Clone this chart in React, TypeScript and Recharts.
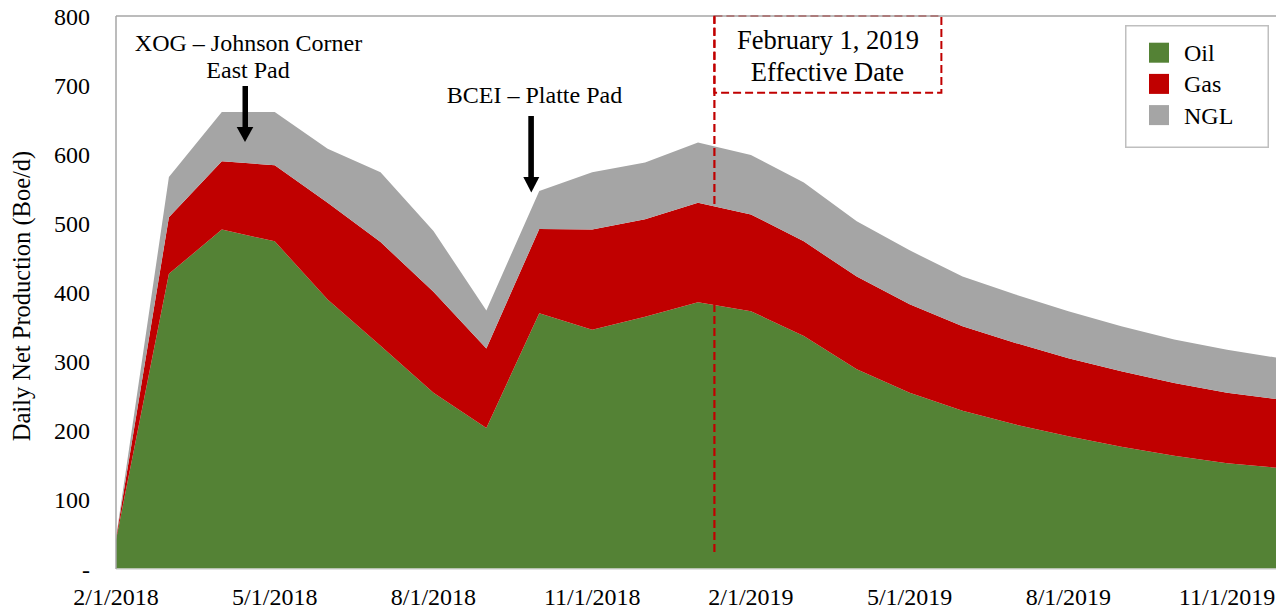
import React from 'react';
import { AreaChart, Area, XAxis, YAxis, ReferenceLine, ReferenceArea, Legend } from 'recharts';

const FONT = '"Liberation Serif", "Times New Roman", serif';

const months = [
  '2/1/2018', '3/1/2018', '4/1/2018', '5/1/2018', '6/1/2018', '7/1/2018', '8/1/2018', '9/1/2018',
  '10/1/2018', '11/1/2018', '12/1/2018', '1/1/2019', '2/1/2019', '3/1/2019', '4/1/2019', '5/1/2019',
  '6/1/2019', '7/1/2019', '8/1/2019', '9/1/2019', '10/1/2019', '11/1/2019', '12/1/2019',
];
const oil = [42, 427, 491, 474, 390, 323, 255, 204, 370, 346, 365, 386, 373, 337, 289, 255, 229, 209, 192, 177, 164, 153, 146];
const gas = [2, 82, 99, 110, 140, 150, 146, 115, 122, 145, 141, 144, 140, 137, 134, 128, 122, 118, 113, 109, 105, 102, 99];
const ngl = [1, 58, 71, 77, 78, 101, 88, 55, 55, 83, 82, 87, 86, 85, 80, 78, 72, 70, 68, 65, 63, 62, 60];

const yTicks = [0, 100, 200, 300, 400, 500, 600, 700, 800];
const xTicks = [0, 3, 6, 9, 12, 15, 18, 21];

const seriesNames = ['Oil', 'Gas', 'NGL'];
const seriesColors = ['#548235', '#C00000', '#A5A5A5'];

const data = months.map((m, i) => ({ idx: i, date: m, Oil: oil[i], Gas: gas[i], NGL: ngl[i] }));

const effectiveX = 11.31;
const boxRightX = 15.6;
const boxBottomY = 689;
const lineBottomY = 20;

const renderLegend = () => (
  <svg width={144} height={123} style={{ display: 'block' }}>
    <rect x={0.75} y={0.75} width={142.5} height={121.5} fill="#fff" stroke="#BFBFBF" strokeWidth={1.5} />
    {seriesNames.map((n, i) => (
      <g key={n}>
        <rect x={24} y={17.7 + i * 31.2} width={20} height={20} fill={seriesColors[i]} />
        <text x={59} y={35.7 + i * 31.6} fontFamily={FONT} fontSize={24} fill="#000">{n}</text>
      </g>
    ))}
  </svg>
);

export default function App() {
  return (
    <div style={{ position: 'absolute', left: 0, top: 0, width: 1276, height: 609, overflow: 'hidden', background: '#fff' }}>
      <AreaChart width={1280} height={609} data={data} margin={{ top: 16, right: 0, bottom: 10, left: 0 }}>
        <XAxis
          dataKey="idx"
          type="number"
          domain={[0, 22]}
          ticks={xTicks}
          tickFormatter={(v: number) => months[v]}
          tickLine={false}
          tickSize={0}
          tickMargin={19}
          height={30}
          axisLine={{ stroke: '#D9D9D9', strokeWidth: 1.5 }}
          tick={{ fill: '#000', fontSize: 24, fontFamily: FONT }}
          interval={0}
        />
        <YAxis
          domain={[0, 800]}
          ticks={yTicks}
          width={116}
          tickLine={false}
          tickSize={0}
          tickMargin={26}
          axisLine={{ stroke: '#A6A6A6', strokeWidth: 1.5 }}
          tick={{ fill: '#000', fontSize: 24, fontFamily: FONT }}
          tickFormatter={(v: number) => (v === 0 ? '-' : String(v))}
          interval={0}
        />
        <Legend layout="vertical" align="center" verticalAlign="middle" content={renderLegend}
          wrapperStyle={{ position: 'absolute', left: 1125, top: 25, width: 144, height: 123 }} />
        {seriesNames.map((n, i) => (
          <Area
            key={n}
            type="linear"
            dataKey={n}
            stackId="1"
            stroke="none"
            fill={seriesColors[i]}
            fillOpacity={1}
            isAnimationActive={false}
            dot={false}
            activeDot={false}
          />
        ))}
        <ReferenceLine y={800} stroke="#A6A6A6" strokeWidth={1.5} />
        <ReferenceArea x1={effectiveX} x2={boxRightX} y1={boxBottomY} y2={800} fill="none" fillOpacity={0}
          stroke="#C00000" strokeWidth={2} strokeDasharray="8 4" />
        <ReferenceLine
          segment={[{ x: effectiveX, y: 800 }, { x: effectiveX, y: lineBottomY }]}
          stroke="#C00000" strokeWidth={2.2} strokeDasharray="8 4"
        />
      </AreaChart>
      <svg width={1276} height={609} style={{ position: 'absolute', left: 0, top: 0, pointerEvents: 'none' }}>
        <g fontFamily={FONT} fontSize={24} fill="#000">
          <text transform="translate(30, 296) rotate(-90)" textAnchor="middle" fontSize={24.5}>Daily Net Production (Boe/d)</text>
          <text x={248.5} y={50.5} textAnchor="middle">XOG – Johnson Corner</text>
          <text x={248} y={78} textAnchor="middle">East Pad</text>
          <text x={534.5} y={103} textAnchor="middle">BCEI – Platte Pad</text>
          <text x={828} y={49} textAnchor="middle" fontSize={26.5}>February 1, 2019</text>
          <text x={827.5} y={81} textAnchor="middle" fontSize={26.5}>Effective Date</text>
        </g>
        <rect x={242.5} y={86} width={5.5} height={42} fill="#000" />
        <polygon points="236.7,127 253.3,127 245,142" fill="#000" />
        <rect x={528.3} y={116} width={5.6} height={62} fill="#000" />
        <polygon points="523.3,177 539.3,177 531.3,192.5" fill="#000" />
      </svg>
    </div>
  );
}
